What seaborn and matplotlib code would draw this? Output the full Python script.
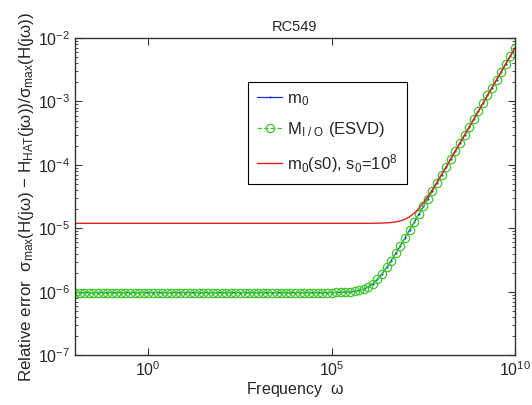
import numpy as np
import pandas as pd
import matplotlib
matplotlib.use("Agg")
import matplotlib.pyplot as plt
import seaborn as sns

# data (log10 of frequency, relative errors)
freq_exp = [
    -2.0, -1.875, -1.75, -1.625, -1.5, -1.375, -1.25, -1.125,
    -1.0, -0.875, -0.75, -0.625, -0.5, -0.375, -0.25, -0.125,
    0.0, 0.125, 0.25, 0.375, 0.5, 0.625, 0.75, 0.875,
    1.0, 1.125, 1.25, 1.375, 1.5, 1.625, 1.75, 1.875,
    2.0, 2.125, 2.25, 2.375, 2.5, 2.625, 2.75, 2.875,
    3.0, 3.125, 3.25, 3.375, 3.5, 3.625, 3.75, 3.875,
    4.0, 4.125, 4.25, 4.375, 4.5, 4.625, 4.75, 4.875,
    5.0, 5.125, 5.25, 5.375, 5.5, 5.625, 5.75, 5.875,
    6.0, 6.125, 6.25, 6.375, 6.5, 6.625, 6.75, 6.875,
    7.0, 7.125, 7.25, 7.375, 7.5, 7.625, 7.75, 7.875,
    8.0, 8.125, 8.25, 8.375, 8.5, 8.625, 8.75, 8.875,
    9.0, 9.125, 9.25, 9.375, 9.5, 9.625, 9.75, 9.875,
    10.0,
]

m0_err = [
    9.7e-7, 9.7e-7, 9.7e-7, 9.7e-7, 9.7e-7, 9.7e-7, 9.7e-7, 9.7e-7,
    9.7e-7, 9.7e-7, 9.7e-7, 9.7e-7, 9.7e-7, 9.7e-7, 9.7e-7, 9.7e-7,
    9.7e-7, 9.7e-7, 9.7e-7, 9.7e-7, 9.7e-7, 9.7e-7, 9.7e-7, 9.7e-7,
    9.7e-7, 9.7e-7, 9.7e-7, 9.7e-7, 9.7e-7, 9.7e-7, 9.7e-7, 9.7e-7,
    9.7e-7, 9.7e-7, 9.7e-7, 9.7e-7, 9.7e-7, 9.7e-7, 9.7e-7, 9.7e-7,
    9.7e-7, 9.7e-7, 9.7e-7, 9.7e-7, 9.7e-7, 9.7e-7, 9.7e-7, 9.7e-7,
    9.7e-7, 9.7e-7, 9.7e-7, 9.7e-7, 9.7e-7, 9.7e-7, 9.7e-7, 9.7e-7,
    9.7e-7, 9.74e-7, 9.78e-7, 9.84e-7, 9.95e-7, 1.014e-6, 1.047e-6, 1.103e-6,
    1.196e-6, 1.346e-6, 1.578e-6, 1.923e-6, 2.417e-6, 3.107e-6, 4.055e-6, 5.34e-6,
    7.07e-6, 9.38e-6, 1.249e-5, 1.663e-5, 2.214e-5, 2.95e-5, 3.94e-5, 5.25e-5,
    7.0e-5, 9.33e-5, 1.245e-4, 1.66e-4, 2.214e-4, 2.95e-4, 3.94e-4, 5.25e-4,
    7.0e-4, 9.33e-4, 1.245e-3, 1.66e-3, 2.214e-3, 2.95e-3, 3.94e-3, 5.25e-3,
    7.0e-3,
]

# M_I/O (ESVD) lies on top of m0 in the reference
mio_err = list(m0_err)

s0_err = [
    1.2e-5, 1.2e-5, 1.2e-5, 1.2e-5, 1.2e-5, 1.2e-5, 1.2e-5, 1.2e-5,
    1.2e-5, 1.2e-5, 1.2e-5, 1.2e-5, 1.2e-5, 1.2e-5, 1.2e-5, 1.2e-5,
    1.2e-5, 1.2e-5, 1.2e-5, 1.2e-5, 1.2e-5, 1.2e-5, 1.2e-5, 1.2e-5,
    1.2e-5, 1.2e-5, 1.2e-5, 1.2e-5, 1.2e-5, 1.2e-5, 1.2e-5, 1.2e-5,
    1.2e-5, 1.2e-5, 1.2e-5, 1.2e-5, 1.2e-5, 1.2e-5, 1.2e-5, 1.2e-5,
    1.2e-5, 1.2e-5, 1.2e-5, 1.2e-5, 1.2e-5, 1.2e-5, 1.2e-5, 1.2e-5,
    1.2e-5, 1.2e-5, 1.2e-5, 1.2e-5, 1.2e-5, 1.2e-5, 1.2e-5, 1.2e-5,
    1.2e-5, 1.2e-5, 1.2e-5, 1.2e-5, 1.2e-5, 1.2e-5, 1.2e-5, 1.2e-5,
    1.2e-5, 1.204e-5, 1.206e-5, 1.211e-5, 1.22e-5, 1.236e-5, 1.263e-5, 1.31e-5,
    1.389e-5, 1.52e-5, 1.729e-5, 2.048e-5, 2.518e-5, 3.186e-5, 4.116e-5, 5.385e-5,
    7.1e-5, 9.41e-5, 1.251e-4, 1.664e-4, 2.217e-4, 2.95e-4, 3.94e-4, 5.25e-4,
    7.0e-4, 9.33e-4, 1.245e-3, 1.66e-3, 2.214e-3, 2.95e-3, 3.94e-3, 5.25e-3,
    7.0e-3,
]

x_ticks = [1e0, 1e5, 1e10]
x_labels = [r"10$^{0}$", r"10$^{5}$", r"10$^{10}$"]
y_ticks = [1e-7, 1e-6, 1e-5, 1e-4, 1e-3, 1e-2]
y_labels = [r"10$^{-7}$", r"10$^{-6}$", r"10$^{-5}$",
            r"10$^{-4}$", r"10$^{-3}$", r"10$^{-2}$"]

freq = 10.0 ** np.array(freq_exp)
df = pd.DataFrame({"freq": freq, "m0": m0_err, "mio": mio_err, "s0": s0_err})

sns.set_style("ticks")
plt.rcParams["font.family"] = ["Liberation Sans", "DejaVu Sans"]
plt.rcParams["mathtext.fontset"] = "custom"
plt.rcParams["mathtext.rm"] = "Liberation Sans"
plt.rcParams["mathtext.it"] = "Liberation Sans"
plt.rcParams["mathtext.default"] = "regular"

fig = plt.figure(figsize=(5.32, 4.05), dpi=100)
ax = fig.add_axes([0.141, 0.123, 0.827, 0.783])

sns.lineplot(data=df, x="freq", y="m0", ax=ax, color="#1f2fd0", lw=0.9,
             marker=".", markersize=3, markeredgewidth=0, estimator=None,
             label=r"m$_0$")
sns.lineplot(data=df, x="freq", y="mio", ax=ax, color="#3ccc28", lw=0.9,
             linestyle="--", marker="o", markersize=6, markerfacecolor="none",
             markeredgecolor="#3ccc28", markeredgewidth=0.9, estimator=None,
             label=r"M$_{I\ /\ O}$ (ESVD)")
sns.lineplot(data=df, x="freq", y="s0", ax=ax, color="#e02020", lw=1.0,
             estimator=None, label=r"m$_0$(s0), s$_0$=10$^8$")

ax.set_xscale("log")
ax.set_yscale("log")
ax.set_xlim(1e-2, 1e10)
ax.set_ylim(1e-7, 1e-2)
ax.set_xticks(x_ticks)
ax.set_xticklabels(x_labels)
ax.xaxis.set_minor_locator(matplotlib.ticker.NullLocator())
ax.set_yticks(y_ticks)
ax.set_yticklabels(y_labels)
ax.yaxis.set_minor_locator(matplotlib.ticker.LogLocator(base=10, subs=np.arange(2, 10)))

ax.tick_params(which="both", direction="in", top=True, right=True,
               labelsize=11.5, color="#333333")
ax.tick_params(which="major", length=5, width=0.8)
ax.tick_params(which="minor", length=2.5, width=0.6)
for sp in ax.spines.values():
    sp.set_linewidth(1.0)
    sp.set_color("#333333")
    sp.set_visible(True)

ax.set_title("RC549", fontsize=10.5, pad=5)
ax.set_xlabel(r"Frequency  $\omega$", fontsize=11.5, labelpad=1)
ax.set_ylabel(r"Relative error  $\sigma_{max}$(H(j$\omega$) $-$ H$_{HAT}$(j$\omega$))/$\sigma_{max}$(H(j$\omega$))",
              fontsize=12.2, labelpad=1)

leg = ax.legend(loc="upper left", bbox_to_anchor=(0.393, 0.862),
                borderaxespad=0, fontsize=12, handlelength=1.5,
                handletextpad=0.3, labelspacing=0.75, borderpad=0.55,
                fancybox=False, framealpha=1)
leg.get_frame().set_edgecolor("black")
leg.get_frame().set_linewidth(0.8)

fig.savefig("out.png", dpi=100)
